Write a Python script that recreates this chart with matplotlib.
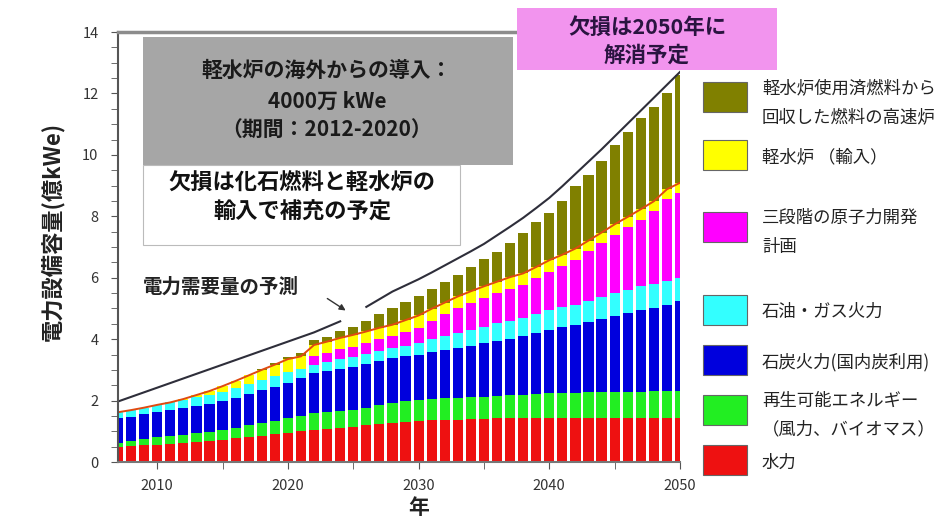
import numpy as np
import matplotlib
matplotlib.use('Agg')
import matplotlib.pyplot as plt
from matplotlib.patches import Rectangle

plt.rcParams['font.family'] = ['Noto Sans CJK JP', 'DejaVu Sans']

# data (億kWe)
years = list(range(2007, 2051))

hydro = [0.50, 0.52, 0.54, 0.56, 0.59, 0.62, 0.66, 0.69, 0.72, 0.77,
         0.81, 0.86, 0.90, 0.95, 1.00, 1.04, 1.08, 1.12, 1.15, 1.19,
         1.23, 1.26, 1.30, 1.34, 1.36, 1.37, 1.38, 1.40, 1.41, 1.42,
         1.42, 1.42, 1.42, 1.42, 1.42, 1.42, 1.42, 1.42, 1.42, 1.42,
         1.42, 1.42, 1.42, 1.42]
renew = [0.13, 0.16, 0.20, 0.24, 0.26, 0.27, 0.29, 0.30, 0.32, 0.35,
         0.38, 0.41, 0.44, 0.47, 0.51, 0.55, 0.55, 0.55, 0.55, 0.58,
         0.62, 0.65, 0.67, 0.68, 0.69, 0.70, 0.70, 0.71, 0.72, 0.73,
         0.75, 0.76, 0.79, 0.82, 0.83, 0.84, 0.85, 0.86, 0.87, 0.87,
         0.87, 0.88, 0.88, 0.88]
coal = [0.79, 0.80, 0.81, 0.82, 0.84, 0.86, 0.88, 0.90, 0.93, 0.97,
        1.02, 1.07, 1.11, 1.16, 1.23, 1.31, 1.34, 1.37, 1.40, 1.42,
        1.45, 1.47, 1.47, 1.48, 1.53, 1.57, 1.62, 1.68, 1.74, 1.80,
        1.85, 1.91, 1.98, 2.06, 2.13, 2.21, 2.29, 2.37, 2.45, 2.56,
        2.67, 2.71, 2.82, 2.93]
oilgas = [0.20, 0.21, 0.22, 0.24, 0.25, 0.27, 0.28, 0.30, 0.32, 0.32,
          0.33, 0.33, 0.34, 0.34, 0.30, 0.26, 0.28, 0.31, 0.33, 0.33,
          0.32, 0.32, 0.35, 0.38, 0.42, 0.46, 0.50, 0.52, 0.54, 0.56,
          0.58, 0.59, 0.63, 0.66, 0.66, 0.65, 0.69, 0.72, 0.76, 0.76,
          0.76, 0.78, 0.77, 0.76]
three_stage = [0, 0, 0, 0, 0, 0, 0, 0, 0, 0,
               0, 0, 0, 0, 0, 0.30, 0.31, 0.32, 0.33, 0.35,
               0.37, 0.39, 0.44, 0.49, 0.60, 0.71, 0.81, 0.87, 0.93, 0.98,
               1.04, 1.09, 1.16, 1.24, 1.35, 1.47, 1.61, 1.75, 1.90, 2.03,
               2.17, 2.37, 2.66, 2.77]
lwr_import = [0, 0, 0, 0, 0, 0.03, 0.07, 0.12, 0.18, 0.23,
              0.28, 0.33, 0.38, 0.43, 0.40, 0.35, 0.36, 0.37, 0.38, 0.38,
              0.38, 0.38, 0.39, 0.40, 0.39, 0.38, 0.38, 0.38, 0.38, 0.38,
              0.38, 0.37, 0.37, 0.37, 0.36, 0.36, 0.35, 0.35, 0.34, 0.34,
              0.34, 0.33, 0.33, 0.33]
fbr = [0, 0, 0, 0, 0, 0, 0, 0, 0, 0,
       0, 0.02, 0.04, 0.06, 0.11, 0.15, 0.15, 0.21, 0.27, 0.33,
       0.45, 0.53, 0.58, 0.62, 0.64, 0.66, 0.70, 0.78, 0.88, 0.98,
       1.12, 1.31, 1.45, 1.55, 1.75, 2.02, 2.14, 2.34, 2.59, 2.78,
       2.97, 3.06, 3.15, 3.51]
demand = [1.97, 2.12, 2.27, 2.42, 2.57, 2.72, 2.87, 3.02, 3.17, 3.32,
          3.47, 3.62, 3.77, 3.92, 4.07, 4.22, 4.40, 4.58, np.nan, 5.05,
          5.30, 5.55, 5.75, 5.95, 6.17, 6.40, 6.63, 6.86, 7.10, 7.38,
          7.66, 7.95, 8.27, 8.60, 8.98, 9.38, 9.78, 10.18, 10.60, 11.02,
          11.44, 11.86, 12.28, 12.70]

layers = [hydro, renew, coal, oilgas, three_stage, lwr_import, fbr]
colors = ['#ee1111', '#22ee22', '#0000dd', '#33ffff', '#ff00ff', '#ffff00', '#808000']
labels = ['水力', '再生可能エネルギー\n（風力、バイオマス）', '石炭火力(国内炭利用)',
          '石油・ガス火力', '三段階の原子力開発\n計画', '軽水炉 （輸入）',
          '軽水炉使用済燃料から\n回収した燃料の高速炉']

W, H = 945, 522


def fx(px):
    return px / W


def fy(py):
    return 1 - py / H


fig = plt.figure(figsize=(9.45, 5.22), dpi=100)
ax = fig.add_axes([fx(118), fy(462), fx(680) - fx(118), (462 - 32) / H])

bottom = np.zeros(len(years))
for vals, col in zip(layers, colors):
    ax.bar(years, vals, width=0.78, bottom=bottom, color=col, linewidth=0)
    bottom += np.array(vals)
    if col == '#ffff00':
        supply_top = bottom.copy()

ax.plot(years, supply_top, color='#e04a10', lw=1.4)
ax.plot(years, demand, color='#2e2e3a', lw=1.5)

ax.set_xlim(2007, 2050)
ax.set_ylim(0, 14)
ax.set_xticks([2010, 2020, 2030, 2040, 2050])
ax.set_xticks(range(2015, 2050, 10), minor=True)
ax.set_yticks(range(0, 15, 2))
ax.set_yticks(np.arange(0, 14.01, 0.5), minor=True)
ax.tick_params(which='both', direction='out', length=5, color='#555555',
               labelsize=10.5, labelcolor='#333333')
ax.tick_params(axis='y', pad=9)
ax.tick_params(axis='x', pad=7)

ax.spines['right'].set_visible(False)
ax.spines['top'].set_color('#8c8c8c')
ax.spines['top'].set_linewidth(2.5)
ax.spines['left'].set_color('#555555')
ax.spines['left'].set_linewidth(1.5)
ax.spines['bottom'].set_color('#777777')
ax.spines['bottom'].set_linewidth(1.5)

fig.text(fx(52), fy(231), '電力設備容量(億kWe)', rotation=90, ha='center', va='center',
         fontsize=16, fontweight='bold', color='#222222')
fig.text(fx(419), fy(507), '年', ha='center', va='center', fontsize=15,
         fontweight='bold', color='#222222')

# boxes
fig.add_artist(Rectangle((fx(143), fy(165)), fx(513) - fx(143), (165 - 37) / H,
                         transform=fig.transFigure, fc='#a6a6a6', ec='none', zorder=5))
fig.add_artist(Rectangle((fx(143), fy(245)), fx(460) - fx(143), (245 - 165) / H,
                         transform=fig.transFigure, fc='white', ec='#bbbbbb', lw=0.8, zorder=5))
fig.add_artist(Rectangle((fx(517), fy(70)), fx(777) - fx(517), (70 - 8) / H,
                         transform=fig.transFigure, fc='#f294ee', ec='none', zorder=5))

box_font = dict(ha='center', va='center', fontweight='bold', zorder=6)
fig.text(fx(327), fy(70), '軽水炉の海外からの導入：', fontsize=15, color='#1a1a1a', **box_font)
fig.text(fx(327), fy(101), '4000万 kWe', fontsize=15, color='#1a1a1a', **box_font)
fig.text(fx(327), fy(130), '（期間：2012-2020）', fontsize=15, color='#1a1a1a', **box_font)
fig.text(fx(302), fy(183), '欠損は化石燃料と軽水炉の', fontsize=16, color='#111111', **box_font)
fig.text(fx(302), fy(212), '輸入で補充の予定', fontsize=16, color='#111111', **box_font)
fig.text(fx(647), fy(27), '欠損は2050年に', fontsize=15.5, color='#2a1440', **box_font)
fig.text(fx(647), fy(55), '解消予定', fontsize=15.5, color='#2a1440', **box_font)

fig.text(fx(143), fy(287), '電力需要量の予測', ha='left', va='center', fontsize=14,
         fontweight='bold', color='#222222')
ax.annotate('', xy=(348, H - 312), xytext=(325, H - 297), xycoords='figure pixels',
            textcoords='figure pixels',
            arrowprops=dict(arrowstyle='-|>', color='#333333', lw=1, mutation_scale=9))

# legend, drawn by hand to match the original layout (patch centre y, text centre y)
legend_rows = [(97, 102.5), (155, 157), (227, 232.5), (310, 312), (360, 362), (410, 415), (460, 463)]
for (patch_y, text_y), col, lab in zip(legend_rows, reversed(colors), reversed(labels)):
    fig.add_artist(Rectangle((fx(703), fy(patch_y + 15)), fx(747) - fx(703), 30 / H,
                             transform=fig.transFigure, fc=col, ec='#666666', lw=0.8))
    fig.text(fx(762), fy(text_y), lab, ha='left', va='center',
             fontsize=12.5, color='#222222', linespacing=1.75)

fig.savefig('out.png', dpi=100)
